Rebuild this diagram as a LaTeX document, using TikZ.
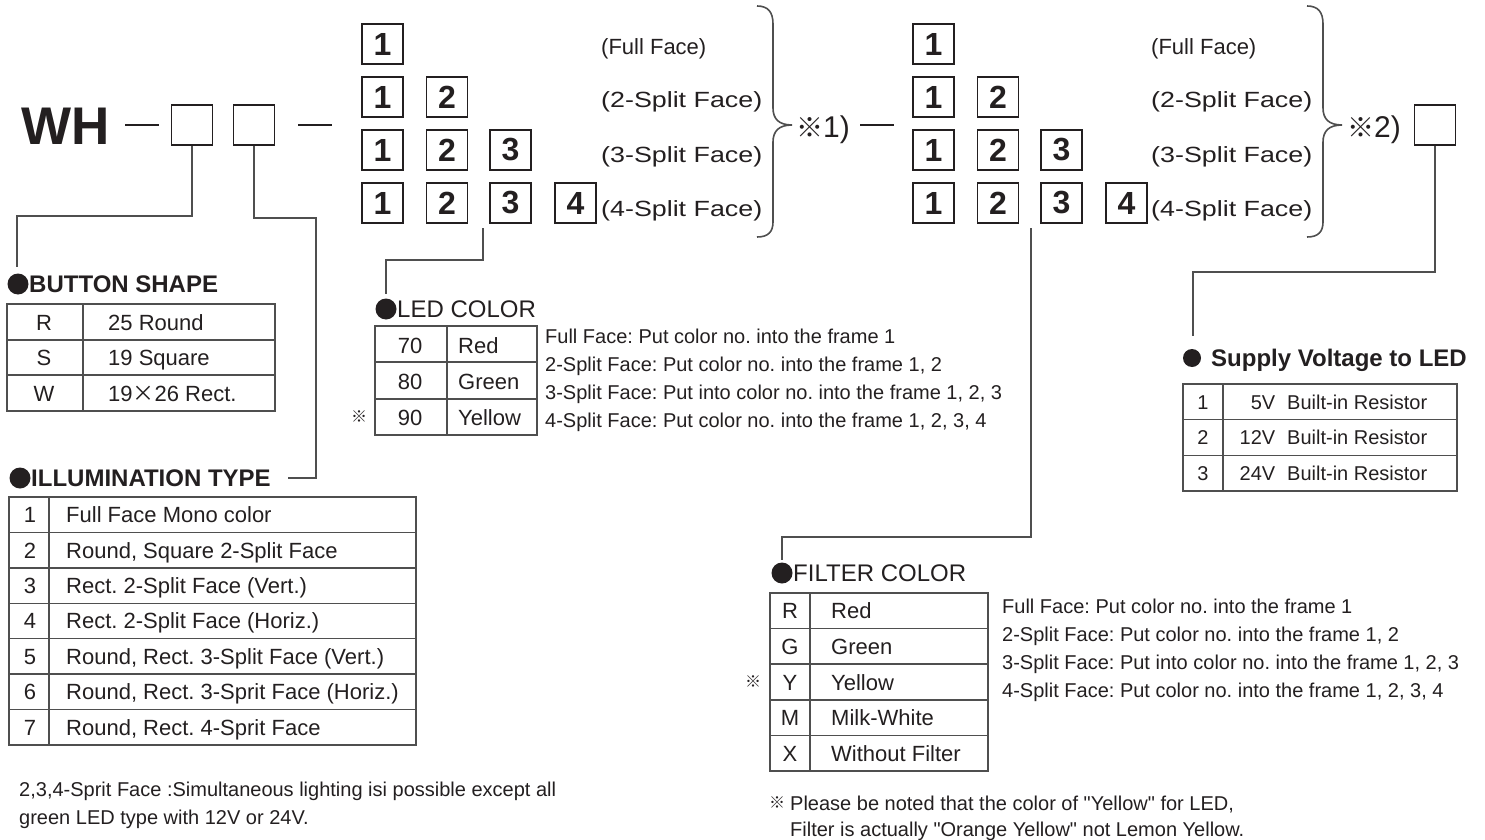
\documentclass[tikz,border=0pt]{standalone}
\usepackage{fontspec}
\setmainfont{Liberation Sans}
\newfontfamily\cjk{Noto Sans CJK JP}
\newcommand\fsz[1]{\fontsize{#1}{#1}\selectfont}
\definecolor{ink}{HTML}{231F20}
\definecolor{rulec}{HTML}{4F4F4F}
\frenchspacing
\begin{document}
\begin{tikzpicture}[x=1pt,y=-1pt,
  txt/.style={inner sep=0, text=ink, anchor=base west},
  txc/.style={inner sep=0, text=ink, anchor=base},
  tf/.style={font=\fsz{22}},
  nf/.style={font=\fsz{20}},
  fbox/.style={draw=ink, line width=1.7, minimum width=41, minimum height=40, inner sep=0, text=ink, font=\bfseries\fsz{32}},
  cbox/.style={draw=ink, line width=1.6, minimum width=41, minimum height=40, inner sep=0},
  conn/.style={draw=rulec, line width=1.4},
  tbl/.style={draw=rulec, line width=1.5},
  bul/.style={circle, fill=ink, inner sep=0, minimum size=21},
  brc/.style={draw=rulec, line width=1.6},
  hdash/.style={draw=ink, line width=2.6},
  ttlB/.style={txt, font=\bfseries\fsz{24}},
  ttlR/.style={txt, font=\fsz{24}},
  refmark/.style={inner sep=0, text=ink, font=\cjk\fsz{16}}
]
\useasboundingbox (0,0) rectangle (1485,840);

% ---- model code line ----
\node[txt, anchor=west] (wh) at (21,126) {\bfseries\fsz{53}WH};
\draw[hdash] (125,125) -- (159,125);
\node[cbox] (sb1) at (192,125) {};
\node[cbox] (sb2) at (254,125) {};
\draw[hdash] (298,125) -- (332,125);

\foreach \r/\yy in {1/44,2/97,3/150,4/203}{
  \foreach \c/\xx in {1/382.5,2/447,3/510.5,4/575.5}{
    \ifnum\c>\r\else
      \node[fbox] (L\r\c) at (\xx,\yy) {\c};
      \node[fbox] (R\r\c) at (\xx+551,\yy) {\c};
    \fi
  }
}

\node[txt] (lf1) at (601,55) {\fsz{22}(Full Face)};
\node[txt] (lf2) at (601,108) {\scalebox{1.22}[1]{\fsz{22}(2-Split Face)}};
\node[txt] (lf3) at (601,162) {\scalebox{1.22}[1]{\fsz{22}(3-Split Face)}};
\node[txt] (lf4) at (601,216) {\scalebox{1.22}[1]{\fsz{22}(4-Split Face)}};
\node[txt] (rf1) at (1151,55) {\fsz{22}(Full Face)};
\node[txt] (rf2) at (1151,108) {\scalebox{1.22}[1]{\fsz{22}(2-Split Face)}};
\node[txt] (rf3) at (1151,162) {\scalebox{1.22}[1]{\fsz{22}(3-Split Face)}};
\node[txt] (rf4) at (1151,216) {\scalebox{1.22}[1]{\fsz{22}(4-Split Face)}};

\draw[brc] (757,6) .. controls (768,6) and (773,12) .. (773,24) -- (773,108)
  .. controls (773,119) and (779,125) .. (792,125)
  .. controls (779,125) and (773,131) .. (773,142) -- (773,222)
  .. controls (773,232) and (768,237) .. (757,237);
\begin{scope}[xshift=550]
\draw[brc] (757,6) .. controls (768,6) and (773,12) .. (773,24) -- (773,108)
  .. controls (773,119) and (779,125) .. (792,125)
  .. controls (779,125) and (773,131) .. (773,142) -- (773,222)
  .. controls (773,232) and (768,237) .. (757,237);
\end{scope}

\node[txt] (n1) at (796,137) {\raisebox{-1pt}{\cjk\fsz{27}※}\fsz{30}1)};
\draw[hdash] (860,125) -- (894,125);
\node[txt] (n2) at (1347,137) {\raisebox{-1pt}{\cjk\fsz{27}※}\fsz{30}2)};
\node[cbox] (sb3) at (1435,125) {};

% ---- connectors ----
\coordinate (bsE) at (17,267);
\draw[conn] (sb1.south) -- ++(0,70) -| (bsE);
\coordinate (ilE) at (288,478);
\draw[conn] (sb2.south) -- ++(0,72) -- ++(62,0) |- (ilE);
\coordinate (ledS) at (483,228);
\coordinate (ledE) at (386,294);
\draw[conn] (ledS) -- ++(0,32) -| (ledE);
\coordinate (flS) at (1031,228);
\coordinate (flE) at (782,560);
\draw[conn] (flS) -- ++(0,309) -| (flE);
\coordinate (svE) at (1193,336);
\draw[conn] (sb3.south) -- ++(0,126) -| (svE);

% ---- BUTTON SHAPE ----
\node[bul] (bsB) at (18,284) {};
\node[ttlB] (bsT) at (29,292.6) {BUTTON SHAPE};
\draw[tbl] (7,304) rectangle (275,411) (7,340) -- (275,340) (7,375) -- (275,375) (83,304) -- (83,411);
\node[txc,tf] (bsk1) at (44,330) {R};
\node[txc,tf] (bsk2) at (44,365) {S};
\node[txc,tf] (bsk3) at (44,401) {W};
\node[txt,tf] (bsv1) at (108,330) {25 Round};
\node[txt,tf] (bsv2) at (108,365) {19 Square};
\node[txt,tf] (bsv3) at (108,401) {19{\cjk ×}26 Rect.};

% ---- ILLUMINATION TYPE ----
\node[bul] (ilB) at (20,478) {};
\node[ttlB] (ilT) at (31,486.6) {ILLUMINATION TYPE};
\draw[tbl] (9,497) rectangle (416,745) (49,497) -- (49,745);
\foreach \i in {1,...,6}{ \draw[tbl] (9,{497+35.43*\i}) -- (416,{497+35.43*\i}); }
\foreach \d [count=\i] in {Full Face Mono color, {Round, Square 2-Split Face}, {Rect. 2-Split Face (Vert.)}, {Rect. 2-Split Face (Horiz.)}, {Round, Rect. 3-Split Face (Vert.)}, {Round, Rect. 3-Sprit Face (Horiz.)}, {Round, Rect. 4-Sprit Face}}{
  \node[txc,tf] (ilk\i) at (30,{522.6+35.43*(\i-1)}) {\i};
  \node[txt,tf] (ilv\i) at (66,{522.6+35.43*(\i-1)}) {\d};
}
\node[txt,nf] (inote1) at (19,796) {2,3,4-Sprit Face :Simultaneous lighting isi possible except all};
\node[txt,nf] (inote2) at (19,824) {green LED type with 12V or 24V.};

% ---- LED COLOR ----
\node[bul] (ledB) at (386,309) {};
\node[ttlR] (ledT) at (397,317.6) {LED COLOR};
\draw[tbl] (375,326) rectangle (537,435) (375,362) -- (537,362) (375,399) -- (537,399) (447,326) -- (447,435);
\node[txc,tf] (ledk1) at (410,353) {70};
\node[txc,tf] (ledk2) at (410,389) {80};
\node[txc,tf] (ledk3) at (410,425) {90};
\node[txt,tf] (ledv1) at (458,353) {Red};
\node[txt,tf] (ledv2) at (458,389) {Green};
\node[txt,tf] (ledv3) at (458,425) {Yellow};
\node[refmark] (ledm) at (359,417) {※};
\node[txt,nf] (ledn1) at (545,343) {Full Face: Put color no. into the frame 1};
\node[txt,nf] (ledn2) at (545,371) {2-Split Face: Put color no. into the frame 1, 2};
\node[txt,nf] (ledn3) at (545,399) {3-Split Face: Put into color no. into the frame 1, 2, 3};
\node[txt,nf] (ledn4) at (545,427) {4-Split Face: Put color no. into the frame 1, 2, 3, 4};

% ---- FILTER COLOR ----
\node[bul] (flB) at (782,573) {};
\node[ttlR] (flT) at (793,581.6) {FILTER COLOR};
\draw[tbl] (770,593) rectangle (988,771) (810,593) -- (810,771);
\foreach \i in {1,...,4}{ \draw[tbl] (770,{593+35.6*\i}) -- (988,{593+35.6*\i}); }
\foreach \k/\d [count=\i] in {R/Red, G/Green, Y/Yellow, M/Milk-White, X/Without Filter}{
  \node[txc,tf] (flk\i) at (790,{618.8+35.6*(\i-1)}) {\k};
  \node[txt,tf] (flv\i) at (831,{618.8+35.6*(\i-1)}) {\d};
}
\node[refmark] (flm) at (753,682) {※};
\node[txt,nf] (fln1) at (1002,613) {Full Face: Put color no. into the frame 1};
\node[txt,nf] (fln2) at (1002,641) {2-Split Face: Put color no. into the frame 1, 2};
\node[txt,nf] (fln3) at (1002,669) {3-Split Face: Put into color no. into the frame 1, 2, 3};
\node[txt,nf] (fln4) at (1002,697) {4-Split Face: Put color no. into the frame 1, 2, 3, 4};
\node[refmark] (fnm) at (777,803) {※};
\node[txt,nf] (fnote1) at (790,810) {Please be noted that the color of \textquotedbl Yellow\textquotedbl{} for LED,};
\node[txt,nf] (fnote2) at (790,836) {Filter is actually \textquotedbl Orange Yellow\textquotedbl{} not Lemon Yellow.};

% ---- SUPPLY VOLTAGE ----
\node[bul, minimum size=18] (svB) at (1192,358) {};
\node[ttlB] (svT) at (1211,366.6) {Supply Voltage to LED};
\draw[tbl] (1183,384) rectangle (1457,491) (1183,419.7) -- (1457,419.7) (1183,455.3) -- (1457,455.3) (1223,384) -- (1223,491);
\foreach \v [count=\i] in {5V,12V,24V}{
  \node[txc,nf] (svk\i) at (1203,{409.2+35.67*(\i-1)}) {\i};
  \node[txt,nf] (svv\i) at (1237,{409.2+35.67*(\i-1)}) {\makebox[38pt][r]{\v}\hspace{12pt}Built-in Resistor};
}
\end{tikzpicture}
\end{document}
